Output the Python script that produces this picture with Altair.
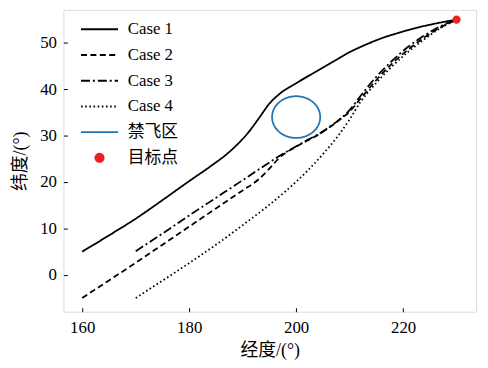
import altair as alt
import pandas as pd
import numpy as np

# ---- data ----
case1_lon = [160, 165, 170, 175, 180, 184, 187, 189, 191, 193, 195, 197, 200, 204, 207, 210, 213, 216, 219, 222, 225, 228, 230]
case1_lat = [5, 8.5, 12.1, 16.1, 20.2, 23.4, 26, 28.1, 30.6, 33.7, 36.9, 39.1, 41.3, 44, 46, 48, 49.6, 51, 52.1, 53.1, 53.9, 54.6, 55]

case2_lon = [160, 165, 170, 175, 180, 185, 190, 193, 195, 197, 200, 202, 204, 206, 208, 210, 212, 215, 218, 221, 224, 227, 230]
case2_lat = [-5, -1.2, 2.6, 6.5, 10.4, 14.3, 18.2, 20.6, 22.9, 25.4, 27.6, 28.9, 30.1, 31.6, 33.3, 35.2, 37.9, 42, 45.6, 48.6, 51.2, 53.3, 55]

case3_lon = [170, 175, 180, 185, 190, 193, 197, 200, 202, 204, 206, 208, 210, 212, 215, 218, 221, 224, 227, 230]
case3_lat = [5.1, 8.9, 12.8, 16.6, 20.4, 22.7, 25.7, 27.7, 29, 30.2, 31.7, 33.4, 35.5, 38.5, 42.7, 46.2, 49.2, 51.6, 53.6, 55]

case4_lon = [170, 174, 178, 182, 186, 190, 194, 198, 202, 205, 208, 210, 212, 215, 218, 221, 224, 227, 230]
case4_lat = [-5, -2, 1, 4.1, 7.3, 10.7, 14.2, 18, 22.3, 26, 30.2, 33.5, 37.2, 41.4, 45, 48.1, 50.8, 53.2, 55]

# no-fly zone: circle centre and radius (degrees)
zone_center = (200, 34)
zone_radius = 4.5

target_lon = [230]
target_lat = [55]

series_names = ["Case 1", "Case 2", "Case 3", "Case 4", "禁飞区", "目标点"]
series_colors = ["#000000", "#000000", "#000000", "#000000", "#1f77b4", "#e8231f"]
series_dashes = [[1, 0], [6, 3.5], [9, 3, 2, 3], [1.6, 2.6], [1, 0], [1, 0]]
long_stroke = "M-2.2,0L2.2,0"
dot_path = "M-0.48,0A0.48,0.48 0 1,0 0.48,0A0.48,0.48 0 1,0 -0.48,0Z"
series_shapes = [long_stroke] * 5 + [dot_path]

x_ticks = [160, 180, 200, 220]
y_ticks = [0, 10, 20, 30, 40, 50]

# ---- build tables ----
rows = []
for name, lons, lats in [("Case 1", case1_lon, case1_lat), ("Case 2", case2_lon, case2_lat),
                         ("Case 3", case3_lon, case3_lat), ("Case 4", case4_lon, case4_lat)]:
    for i, (a, b) in enumerate(zip(lons, lats)):
        rows.append({"lon": a, "lat": b, "series": name, "order": i})
cases_df = pd.DataFrame(rows)

ang = np.linspace(0, 2 * np.pi, 91)
zone_df = pd.DataFrame({
    "lon": zone_center[0] + zone_radius * np.cos(ang),
    "lat": zone_center[1] + zone_radius * np.sin(ang),
    "series": "禁飞区",
    "order": np.arange(len(ang)),
})
target_df = pd.DataFrame({"lon": target_lon, "lat": target_lat, "series": ["目标点"]})

FONT = "Liberation Serif, Noto Sans CJK SC"
xdom = [156.48, 233.64]
ydom = [-7.95, 57.1]

legend_kw = dict(title=None, orient="none", legendX=27, legendY=10, symbolSize=289,
                 symbolStrokeWidth=2, labelFont=FONT, labelFontSize=17, labelOffset=19,
                 rowPadding=8, padding=0, labelColor="#000")

xs = alt.Scale(domain=xdom, nice=False, zero=False)
ys = alt.Scale(domain=ydom, nice=False, zero=False)

color = alt.Color("series:N", scale=alt.Scale(domain=series_names, range=series_colors),
                  legend=alt.Legend(**legend_kw))
dash = alt.StrokeDash("series:N", scale=alt.Scale(domain=series_names, range=series_dashes),
                      legend=alt.Legend(**legend_kw))

x_main = alt.X("lon:Q", scale=xs,
               axis=alt.Axis(title="经度/(°)", values=x_ticks, ticks=False, domain=False, grid=False,
                             labelFont=FONT, labelFontSize=17, labelColor="#000", labelPadding=8,
                             titleFont=FONT, titleFontSize=18, titleFontWeight="normal",
                             titleColor="#000", titlePadding=6, orient="bottom"))
y_main = alt.Y("lat:Q", scale=ys,
               axis=alt.Axis(title="纬度/(°)", values=y_ticks, ticks=False, domain=False, grid=False,
                             labelFont=FONT, labelFontSize=17, labelColor="#000", labelPadding=7,
                             titleFont=FONT, titleFontSize=18, titleFontWeight="normal",
                             titleColor="#000", titlePadding=10, orient="left"))

cases = alt.Chart(cases_df).mark_line(strokeWidth=1.8, clip=True, interpolate="monotone").encode(
    x=x_main, y=y_main, color=color, strokeDash=dash, order="order:Q",
)

zone = alt.Chart(zone_df).mark_line(strokeWidth=1.8, clip=True).encode(
    x=alt.X("lon:Q", scale=xs, axis=None), y=alt.Y("lat:Q", scale=ys, axis=None),
    color=color, strokeDash=dash, order="order:Q",
)

points = alt.Chart(target_df).mark_point(filled=True, size=289, opacity=1).encode(
    x=alt.X("lon:Q", scale=xs,
            axis=alt.Axis(title=None, values=x_ticks, labels=False, domain=False, grid=False,
                          ticks=True, tickSize=4, tickColor="#000", tickWidth=1, offset=-4,
                          orient="bottom")),
    y=alt.Y("lat:Q", scale=ys,
            axis=alt.Axis(title=None, values=y_ticks, labels=False, domain=False, grid=False,
                          ticks=True, tickSize=4, tickColor="#000", tickWidth=1, offset=-4,
                          orient="left")),
    color=color,
    shape=alt.Shape("series:N", scale=alt.Scale(domain=series_names, range=series_shapes),
                    legend=alt.Legend(**legend_kw)),
)

chart = alt.layer(cases, zone, points).resolve_axis(x="independent", y="independent").properties(
    width=417, height=305,
    autosize=alt.AutoSizeParams(type="none"),
    padding={"left": 56, "top": 0, "right": 4, "bottom": 60},
).configure_view(stroke="#000", strokeWidth=1.2).configure(background="white")

chart.save("out.html", embed_options={"renderer": "svg", "actions": False})
